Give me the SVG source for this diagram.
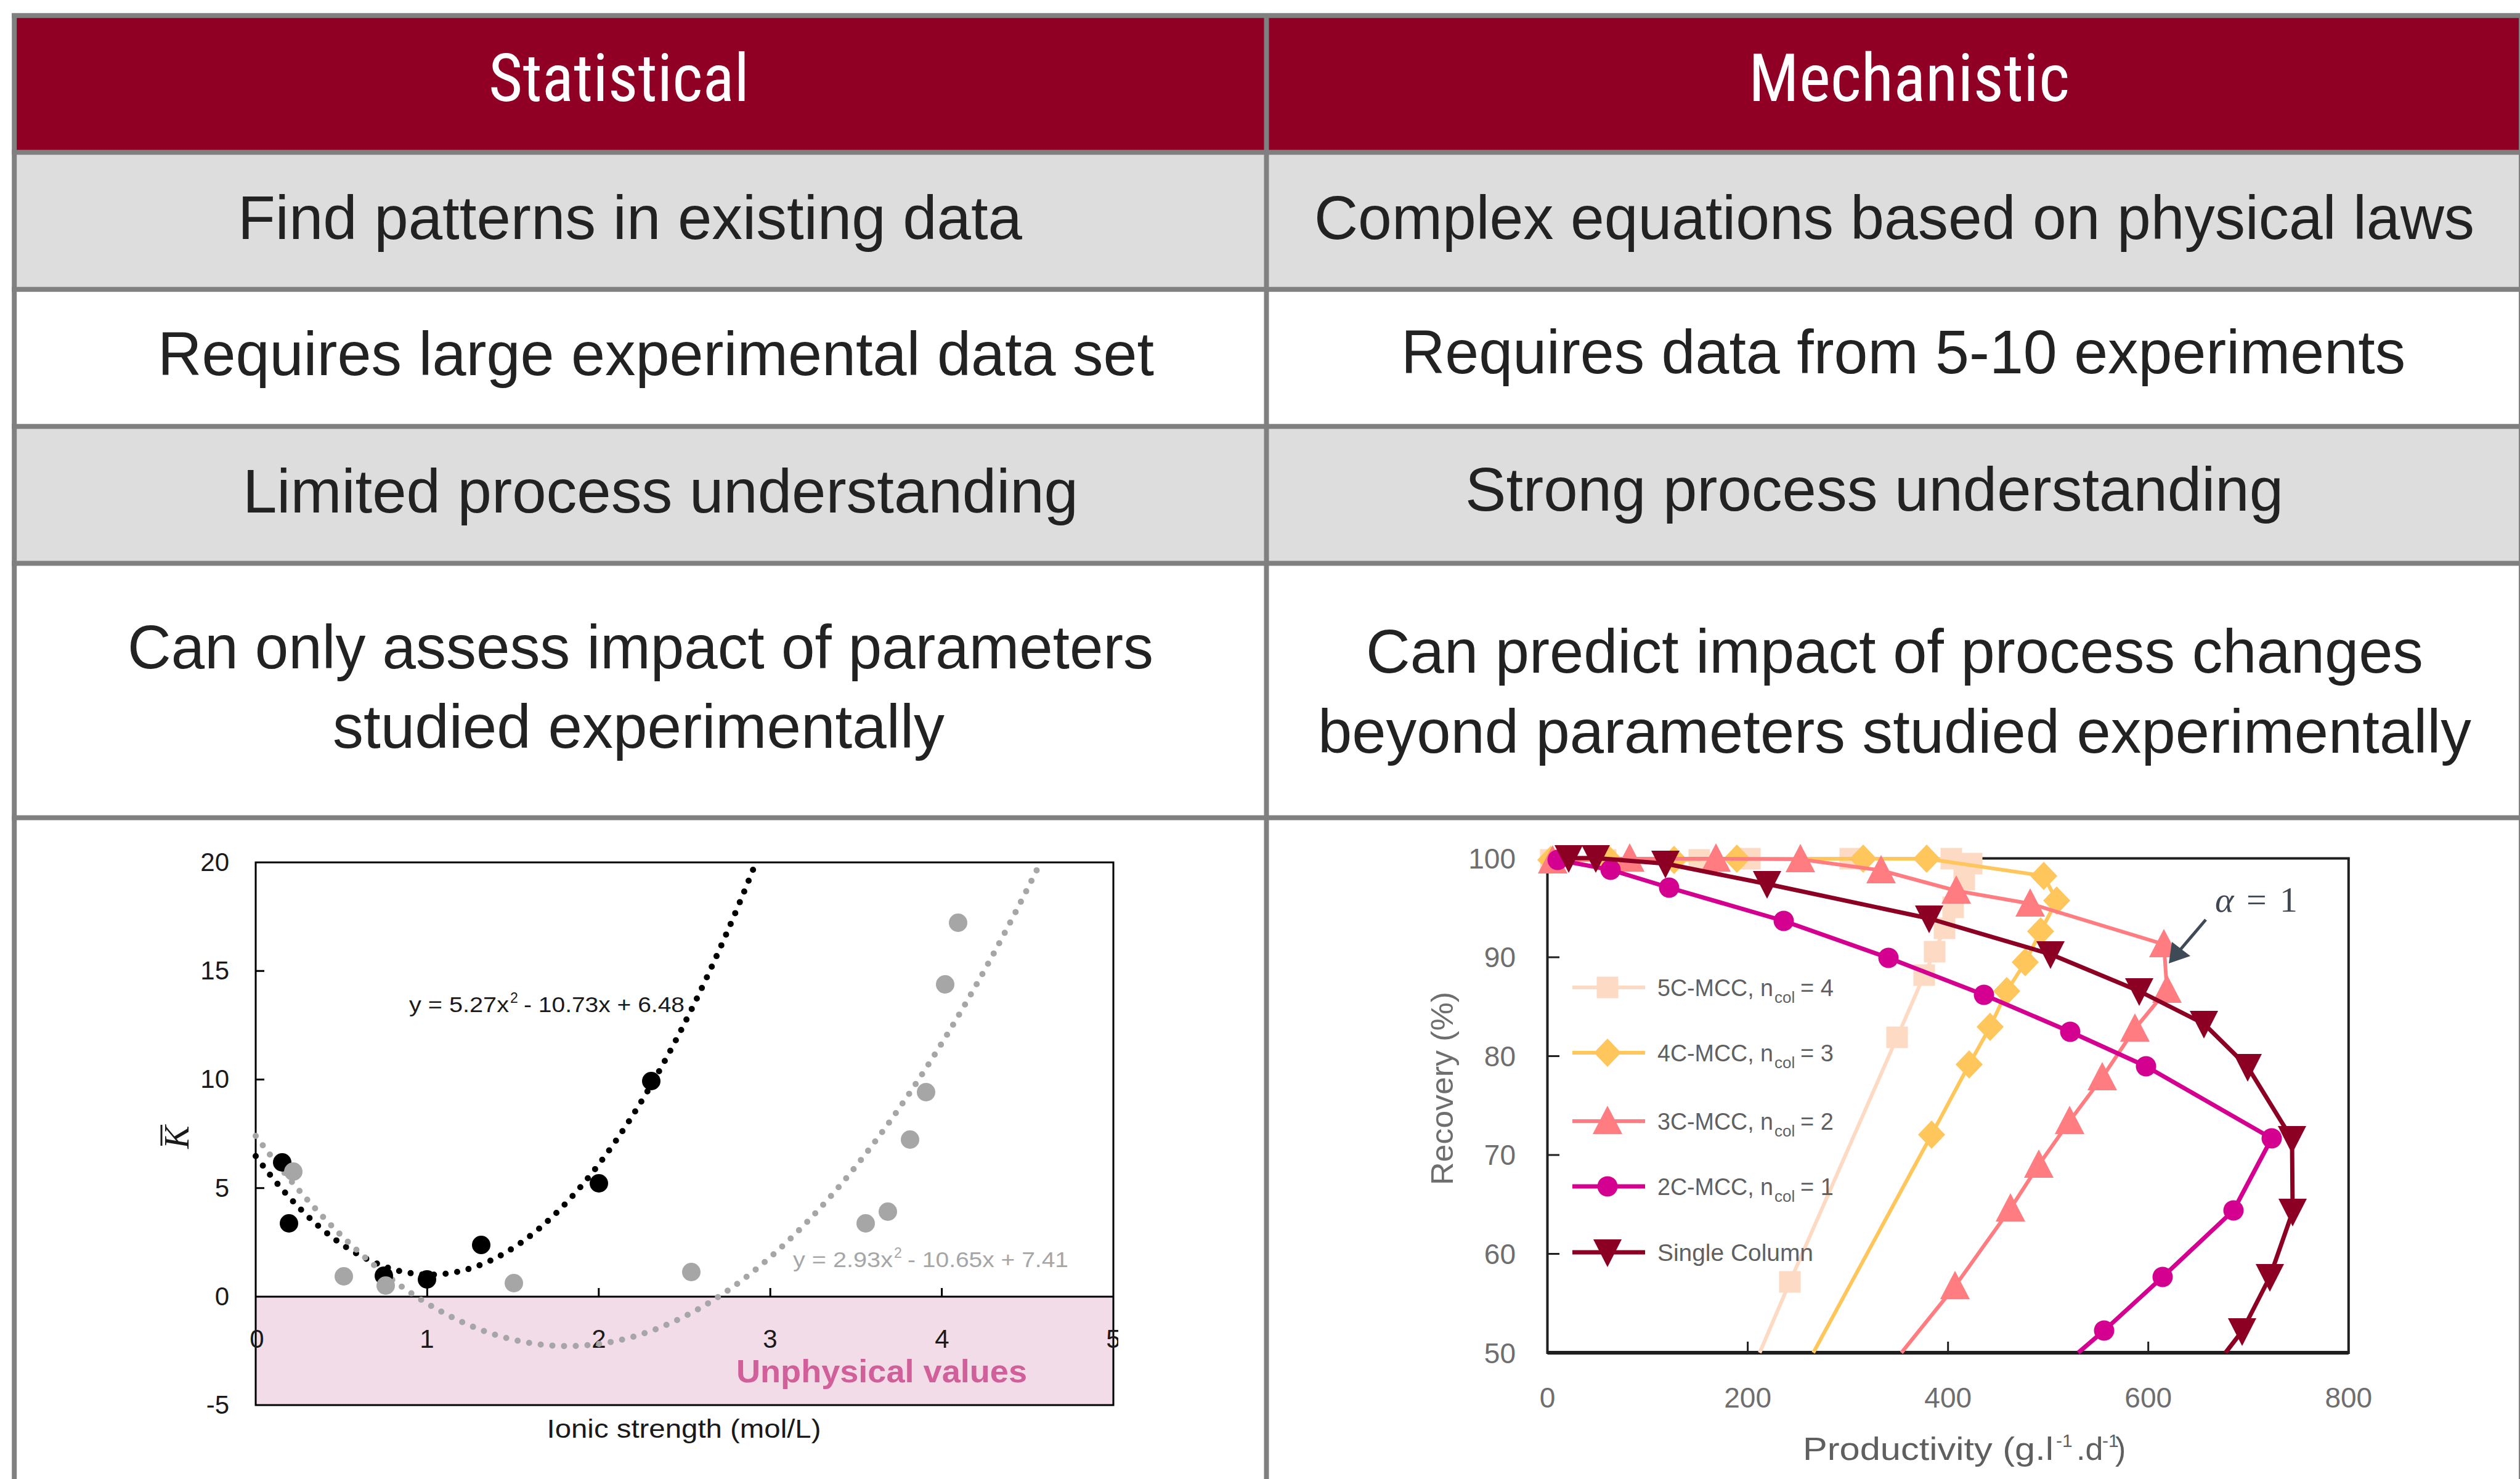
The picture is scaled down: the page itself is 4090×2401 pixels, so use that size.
<svg xmlns="http://www.w3.org/2000/svg" width="4090" height="2401" viewBox="0 0 4090 2401">
<style>
.hd{font-family:"Liberation Sans Narrow","Roboto Condensed","Roboto","Liberation Sans",sans-serif;font-size:108px;fill:#fff;text-anchor:middle}
.bd{font-family:"Liberation Sans",Arial,sans-serif;font-size:100px;fill:#222;text-anchor:middle}
.grid{stroke:#808080;stroke-width:8;fill:none}
.lc{font-family:"Liberation Sans",Arial,sans-serif;fill:#1a1a1a}
.rc{font-family:"Liberation Sans",Arial,sans-serif;fill:#6e6e6e}
.lg{font-family:"Liberation Sans",Arial,sans-serif;fill:#606060;font-size:38px}
.dotk{fill:none;stroke:#000;stroke-width:10;stroke-linecap:round;stroke-dasharray:0 19}
.dotg{fill:none;stroke:#A6A6A6;stroke-width:10;stroke-linecap:round;stroke-dasharray:0 19}
.s5{fill:none;stroke:#FDDAC3;stroke-width:6;stroke-linejoin:round}
.s4{fill:none;stroke:#FFC65C;stroke-width:6;stroke-linejoin:round}
.s3{fill:none;stroke:#FF7C80;stroke-width:6;stroke-linejoin:round}
.s2{fill:none;stroke:#D4008F;stroke-width:7;stroke-linejoin:round}
.s1{fill:none;stroke:#8C0023;stroke-width:7;stroke-linejoin:round}
</style>
<defs>
<rect id="mk5" x="-17.5" y="-17.5" width="35" height="35" fill="#FDDAC3"/>
<polygon id="mk4" points="0,-23 22,0 0,23 -22,0" fill="#FFC65C"/>
<polygon id="mk3" points="0,-25 24,21 -24,21" fill="#FF7C80"/>
<circle id="mk2" r="16.5" fill="#D4008F"/>
<polygon id="mk1" points="0,24 23,-21 -23,-21" fill="#8C0023"/>
<marker id="ah" markerWidth="10" markerHeight="10" refX="9" refY="5" orient="auto" markerUnits="userSpaceOnUse" viewBox="0 0 10 10">
<path d="M0,0 L10,5 L0,10 z" fill="#3F4A57"/>
</marker>
<clipPath id="clipL"><rect x="0" y="1330" width="1815" height="1071"/></clipPath>
</defs>
<rect width="4090" height="2401" fill="#fff"/>

<g id="table">
<rect x="27" y="29" width="4061" height="215" fill="#8F0024"/>
<rect x="27" y="251" width="4061" height="215" fill="#DDDDDD"/>
<rect x="27" y="696" width="4061" height="215" fill="#DDDDDD"/>
<path class="grid" d="M19,25.3H4096M19,247.3H4096M19,469.7H4096M19,692.2H4096M19,914.6H4096M19,1327.5H4096M23.2,21.3V2401M2055.5,21.3V2401M4092,21.3V2401"/>
</g>

<g id="header-statistical"><text class="hd" x="1004.5" y="164" textLength="423" lengthAdjust="spacingAndGlyphs">Statistical</text></g>
<g id="header-mechanistic"><text class="hd" x="3098.5" y="164" textLength="521" lengthAdjust="spacingAndGlyphs">Mechanistic</text></g>

<g id="row1-left"><text class="bd" x="1022.5" y="388" textLength="1273" lengthAdjust="spacingAndGlyphs">Find patterns in existing data</text></g>
<g id="row1-right"><text class="bd" x="3074.5" y="388" textLength="1883" lengthAdjust="spacingAndGlyphs">Complex equations based on physical laws</text></g>
<g id="row2-left"><text class="bd" x="1064.5" y="609" textLength="1617" lengthAdjust="spacingAndGlyphs">Requires large experimental data set</text></g>
<g id="row2-right"><text class="bd" x="3089" y="606" textLength="1630" lengthAdjust="spacingAndGlyphs">Requires data from 5-10 experiments</text></g>
<g id="row3-left"><text class="bd" x="1072" y="832" textLength="1356" lengthAdjust="spacingAndGlyphs">Limited process understanding</text></g>
<g id="row3-right"><text class="bd" x="3042" y="829" textLength="1328" lengthAdjust="spacingAndGlyphs">Strong process understanding</text></g>
<g id="row4-left">
<text class="bd" x="1039.5" y="1085" textLength="1665" lengthAdjust="spacingAndGlyphs">Can only assess impact of parameters</text>
<text class="bd" x="1036.5" y="1214" textLength="993" lengthAdjust="spacingAndGlyphs">studied experimentally</text>
</g>
<g id="row4-right">
<text class="bd" x="3075" y="1092" textLength="1716" lengthAdjust="spacingAndGlyphs">Can predict impact of process changes</text>
<text class="bd" x="3075" y="1222" textLength="1872" lengthAdjust="spacingAndGlyphs">beyond parameters studied experimentally</text>
</g>

<g id="chart-statistical">
<rect x="415" y="2105" width="1392" height="176" fill="#F2DCE7"/>
<rect x="415" y="1400" width="1392" height="881" fill="none" stroke="#000" stroke-width="3"/>
<line x1="415" y1="2105" x2="1807" y2="2105" stroke="#000" stroke-width="3"/>
<path d="M693.4,2105V2091M971.8,2105V2091M1250.2,2105V2091M1528.6,2105V2091M415,1576.2H429M415,1752.5H429M415,1928.8H429" stroke="#000" stroke-width="3"/>
<g class="lc" font-size="42" text-anchor="end">
<text x="372" y="1414">20</text><text x="372" y="1590">15</text><text x="372" y="1766">10</text>
<text x="372" y="1943">5</text><text x="372" y="2119">0</text><text x="372" y="2295">-5</text>
</g>
<g class="lc" font-size="42" text-anchor="middle">
<text x="417" y="2188">0</text><text x="693" y="2188">1</text><text x="972" y="2188">2</text>
<text x="1250" y="2188">3</text><text x="1529" y="2188">4</text><text x="1807" y="2188" clip-path="url(#clipL)">5</text>
</g>
<g transform="translate(306,1846) rotate(-90)">
<text class="lc" x="0" y="0" font-family="Liberation Serif,serif" font-style="italic" font-size="56" text-anchor="middle" style="font-family:'Liberation Serif',serif">K</text>
<line x1="-14" y1="-44" x2="20" y2="-44" stroke="#1a1a1a" stroke-width="3"/>
</g>
<text class="lc" x="1110" y="2334" font-size="42" text-anchor="middle" textLength="445" lengthAdjust="spacingAndGlyphs">Ionic strength (mol/L)</text>
<text x="1431" y="2244" font-family="Liberation Sans,Arial,sans-serif" font-weight="bold" font-size="52" fill="#D1609A" text-anchor="middle" textLength="472" lengthAdjust="spacingAndGlyphs" style="font-family:'Liberation Sans',Arial,sans-serif">Unphysical values</text>
<path class="dotk" d="M415,1876.8 Q820.9,2428.2 1226.8,1400.2"/>
<path class="dotg" d="M415,1844 Q1051.8,2702.7 1688.7,1400.2"/>
<g fill="#000">
<circle cx="458" cy="1887" r="15"/><circle cx="469" cy="1986" r="15"/><circle cx="623" cy="2071" r="15"/>
<circle cx="693" cy="2077" r="15"/><circle cx="781" cy="2021" r="15"/><circle cx="972" cy="1921" r="15"/>
<circle cx="1057" cy="1755" r="15"/>
</g>
<g fill="#A6A6A6">
<circle cx="476" cy="1902" r="15"/><circle cx="558" cy="2072" r="15"/><circle cx="626" cy="2087" r="15"/>
<circle cx="834" cy="2083" r="15"/><circle cx="1122" cy="2065" r="15"/><circle cx="1405" cy="1986" r="15"/>
<circle cx="1441" cy="1967" r="15"/><circle cx="1477" cy="1850" r="15"/><circle cx="1503" cy="1773" r="15"/>
<circle cx="1534" cy="1598" r="15"/><circle cx="1555" cy="1498" r="15"/>
</g>
<g class="lc" font-size="35">
<text x="664" y="1643" textLength="162" lengthAdjust="spacingAndGlyphs">y = 5.27x</text>
<text x="828" y="1628" font-size="23">2</text>
<text x="850" y="1643" textLength="261" lengthAdjust="spacingAndGlyphs">- 10.73x + 6.48</text>
</g>
<g font-family="Liberation Sans,Arial,sans-serif" fill="#A6A6A6" font-size="35" style="font-family:'Liberation Sans',Arial,sans-serif">
<text x="1287" y="2057" textLength="162" lengthAdjust="spacingAndGlyphs">y = 2.93x</text>
<text x="1451" y="2042" font-size="23">2</text>
<text x="1473" y="2057" textLength="261" lengthAdjust="spacingAndGlyphs">- 10.65x + 7.41</text>
</g>
</g>

<g id="chart-mechanistic">
<rect x="2511.5" y="1393.5" width="1300.3" height="802.5" fill="none" stroke="#1f1f1f" stroke-width="4"/>
<line x1="2511.5" y1="2196" x2="3811.8" y2="2196" stroke="#1f1f1f" stroke-width="6"/>
<path d="M2836.6,2196V2178M3161.7,2196V2178M3486.7,2196V2178M2511.5,1554H2531M2511.5,1714.5H2531M2511.5,1875H2531M2511.5,2035.5H2531" stroke="#1f1f1f" stroke-width="3"/>
<g class="rc" font-size="46" text-anchor="end">
<text x="2460" y="1410">100</text><text x="2460" y="1570">90</text><text x="2460" y="1731">80</text>
<text x="2460" y="1891">70</text><text x="2460" y="2052">60</text><text x="2460" y="2213">50</text>
</g>
<g class="rc" font-size="46" text-anchor="middle">
<text x="2511.5" y="2285">0</text><text x="2836.6" y="2285">200</text><text x="3161.7" y="2285">400</text>
<text x="3486.7" y="2285">600</text><text x="3811.8" y="2285">800</text>
</g>
<text class="rc" transform="translate(2358,1767) rotate(-90)" font-size="50" text-anchor="middle" textLength="314" lengthAdjust="spacingAndGlyphs">Recovery (%)</text>
<g class="rc" font-size="52" fill="#5f5f5f">
<text x="2926" y="2370" textLength="407" lengthAdjust="spacingAndGlyphs" style="fill:#5f5f5f">Productivity (g.l</text>
<text x="3337" y="2349" font-size="30" style="fill:#5f5f5f">-1</text>
<text x="3370" y="2370" style="fill:#5f5f5f">.d</text>
<text x="3412" y="2349" font-size="30" style="fill:#5f5f5f">-1</text>
<text x="3433" y="2370" style="fill:#5f5f5f">)</text>
</g>

<polyline class="s5" points="2517,1396 2606,1396 2758,1396 2840,1394 3003,1394 3167,1394 3200,1402 3188,1428 3170,1473 3156,1507 3140,1545 3123,1583 3079,1684 2905,2081 2856,2196"/>
<g>
<use href="#mk5" x="2517" y="1396"/><use href="#mk5" x="2606" y="1396"/><use href="#mk5" x="2758" y="1396"/>
<use href="#mk5" x="2840" y="1394"/><use href="#mk5" x="3003" y="1394"/><use href="#mk5" x="3167" y="1394"/>
<use href="#mk5" x="3200" y="1402"/><use href="#mk5" x="3188" y="1428"/><use href="#mk5" x="3170" y="1473"/>
<use href="#mk5" x="3156" y="1507"/><use href="#mk5" x="3140" y="1545"/><use href="#mk5" x="3123" y="1583"/>
<use href="#mk5" x="3079" y="1684"/><use href="#mk5" x="2905" y="2081"/>
</g>
<polyline class="s4" points="2517,1396 2612,1396 2717,1396 2819,1394 3024,1394 3127,1394 3317,1422 3338,1462 3312,1512 3287,1562 3257,1609 3230,1667 3196,1728 3135,1842 2943,2196"/>
<g>
<use href="#mk4" x="2517" y="1396"/><use href="#mk4" x="2612" y="1396"/><use href="#mk4" x="2717" y="1396"/>
<use href="#mk4" x="2819" y="1394"/><use href="#mk4" x="3024" y="1394"/><use href="#mk4" x="3127" y="1394"/>
<use href="#mk4" x="3317" y="1422"/><use href="#mk4" x="3338" y="1462"/><use href="#mk4" x="3312" y="1512"/>
<use href="#mk4" x="3287" y="1562"/><use href="#mk4" x="3257" y="1609"/><use href="#mk4" x="3230" y="1667"/>
<use href="#mk4" x="3196" y="1728"/><use href="#mk4" x="3135" y="1842"/>
</g>
<polyline class="s3" points="2520,1397 2645,1394 2785,1394 2922,1395 3053,1413 3175,1446 3295,1467 3512,1533 3517,1607 3465,1670 3412,1749 3359,1820 3309,1891 3263,1962 3173,2088 3086,2196"/>
<g>
<use href="#mk3" x="2520" y="1397"/><use href="#mk3" x="2645" y="1394"/><use href="#mk3" x="2785" y="1394"/>
<use href="#mk3" x="2922" y="1395"/><use href="#mk3" x="3053" y="1413"/><use href="#mk3" x="3175" y="1446"/>
<use href="#mk3" x="3295" y="1467"/><use href="#mk3" x="3512" y="1533"/><use href="#mk3" x="3517" y="1607"/>
<use href="#mk3" x="3465" y="1670"/><use href="#mk3" x="3412" y="1749"/><use href="#mk3" x="3359" y="1820"/>
<use href="#mk3" x="3309" y="1891"/><use href="#mk3" x="3263" y="1962"/><use href="#mk3" x="3173" y="2088"/>
</g>
<polyline class="s2" points="2528,1396 2614,1412 2709,1441 2895,1495 3065,1555 3220,1615 3360,1675 3483,1731 3687,1848 3625,1965 3510,2073 3415,2160 3373,2196"/>
<g>
<use href="#mk2" x="2528" y="1396"/><use href="#mk2" x="2614" y="1412"/><use href="#mk2" x="2709" y="1441"/>
<use href="#mk2" x="2895" y="1495"/><use href="#mk2" x="3065" y="1555"/><use href="#mk2" x="3220" y="1615"/>
<use href="#mk2" x="3360" y="1675"/><use href="#mk2" x="3483" y="1731"/><use href="#mk2" x="3687" y="1848"/>
<use href="#mk2" x="3625" y="1965"/><use href="#mk2" x="3510" y="2073"/><use href="#mk2" x="3415" y="2160"/>
</g>
<polyline class="s1" points="2546,1393 2590,1393 2703,1402 2868,1435 3131,1491 3328,1549 3472,1609 3577,1662 3648,1732 3720,1849 3721,1967 3684,2073 3639,2161 3612,2196"/>
<g>
<use href="#mk1" x="2546" y="1393"/><use href="#mk1" x="2590" y="1393"/><use href="#mk1" x="2703" y="1402"/>
<use href="#mk1" x="2868" y="1435"/><use href="#mk1" x="3131" y="1491"/><use href="#mk1" x="3328" y="1549"/>
<use href="#mk1" x="3472" y="1609"/><use href="#mk1" x="3577" y="1662"/><use href="#mk1" x="3648" y="1732"/>
<use href="#mk1" x="3720" y="1849"/><use href="#mk1" x="3721" y="1967"/><use href="#mk1" x="3684" y="2073"/>
<use href="#mk1" x="3639" y="2161"/>
</g>

<g id="legend">
<line class="s5" x1="2552" y1="1603" x2="2670" y2="1603"/><use href="#mk5" x="2609" y="1603"/>
<line class="s4" x1="2552" y1="1709" x2="2670" y2="1709"/><use href="#mk4" x="2609" y="1709"/>
<line class="s3" x1="2552" y1="1820" x2="2670" y2="1820"/><use href="#mk3" x="2609" y="1820"/>
<line class="s2" x1="2552" y1="1926" x2="2670" y2="1926"/><use href="#mk2" x="2609" y="1926"/>
<line class="s1" x1="2552" y1="2033" x2="2670" y2="2033"/><use href="#mk1" x="2609" y="2033"/>
<text class="lg" y="1617"><tspan x="2690" textLength="188" lengthAdjust="spacingAndGlyphs">5C-MCC, n</tspan><tspan x="2880" y="1628" font-size="26">col</tspan><tspan x="2922" y="1617">= 4</tspan></text>
<text class="lg" y="1723"><tspan x="2690" textLength="188" lengthAdjust="spacingAndGlyphs">4C-MCC, n</tspan><tspan x="2880" y="1734" font-size="26">col</tspan><tspan x="2922" y="1723">= 3</tspan></text>
<text class="lg" y="1834"><tspan x="2690" textLength="188" lengthAdjust="spacingAndGlyphs">3C-MCC, n</tspan><tspan x="2880" y="1845" font-size="26">col</tspan><tspan x="2922" y="1834">= 2</tspan></text>
<text class="lg" y="1940"><tspan x="2690" textLength="188" lengthAdjust="spacingAndGlyphs">2C-MCC, n</tspan><tspan x="2880" y="1951" font-size="26">col</tspan><tspan x="2922" y="1940">= 1</tspan></text>
<text class="lg" x="2690" y="2047" textLength="253" lengthAdjust="spacingAndGlyphs">Single Column</text>
</g>

<g id="alpha-label" font-family="Liberation Serif,serif" font-size="58" fill="#3F4753" style="font-family:'Liberation Serif',serif">
<text x="3595" y="1480" font-style="italic">α</text>
<text x="3646" y="1480">=</text>
<text x="3700" y="1480">1</text>
</g>
</g>

<g id="connectors">
<line x1="3580" y1="1493" x2="3535" y2="1546" stroke="#3F4A57" stroke-width="5"/>
<polygon points="3520,1564 3525,1529 3555,1552" fill="#3F4A57"/>
</g>
</svg>
